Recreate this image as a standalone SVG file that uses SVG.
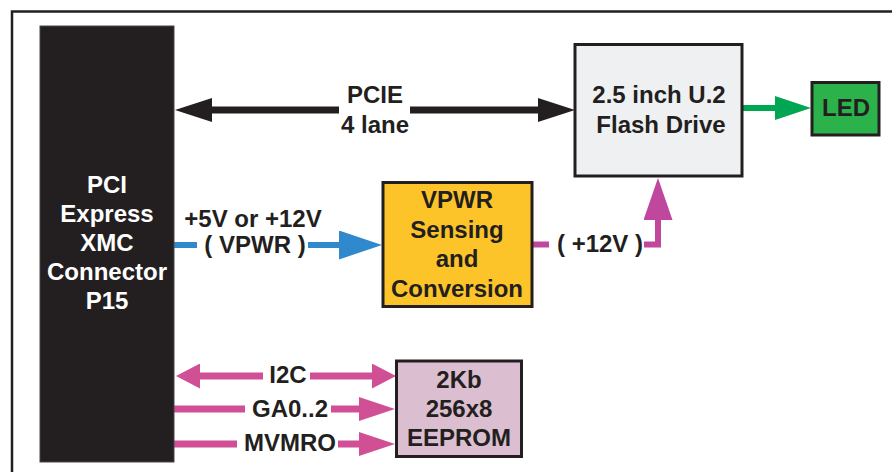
<svg xmlns="http://www.w3.org/2000/svg" width="892" height="472" viewBox="0 0 892 472">
<style>
text{font-family:"Liberation Sans",Arial,Helvetica,sans-serif;font-weight:bold;font-size:24px;text-anchor:middle;fill:#231f20}
.w{fill:#ffffff}
.box{stroke:#231f20;stroke-width:3}
.ln{fill:none;stroke-linecap:butt}
.blk{stroke:#231f20;stroke-width:7}
.grn{stroke:#00a651;stroke-width:6}
.blu{stroke:#3089cd;stroke-width:6}
.mag{stroke:#c0479e;stroke-width:6}
.pnk{stroke:#d14f95;stroke-width:7}
</style>
<defs>
<marker id="hBlk" markerUnits="userSpaceOnUse" viewBox="0 0 37 24" markerWidth="37" markerHeight="24" refX="1" refY="12" orient="auto-start-reverse"><path d="M0,0 L37,12 L0,24 z" fill="#231f20"/></marker>
<marker id="hGrn" markerUnits="userSpaceOnUse" viewBox="0 0 36 24" markerWidth="36" markerHeight="24" refX="1" refY="12" orient="auto-start-reverse"><path d="M0,0 L36,12 L0,24 z" fill="#00a651"/></marker>
<marker id="hBlu" markerUnits="userSpaceOnUse" viewBox="0 0 43 29" markerWidth="43" markerHeight="29" refX="1" refY="14.5" orient="auto-start-reverse"><path d="M0,0 L43,14.5 L0,29 z" fill="#3089cd"/></marker>
<marker id="hMag" markerUnits="userSpaceOnUse" viewBox="0 0 42 29" markerWidth="42" markerHeight="29" refX="1" refY="14.5" orient="auto-start-reverse"><path d="M0,0 L42,14.5 L0,29 z" fill="#c0479e"/></marker>
<marker id="hPnkS" markerUnits="userSpaceOnUse" viewBox="0 0 24 25" markerWidth="24" markerHeight="25" refX="1" refY="12.5" orient="auto-start-reverse"><path d="M0,0 L24,12.5 L0,25 z" fill="#d14f95"/></marker>
<marker id="hPnk" markerUnits="userSpaceOnUse" viewBox="0 0 36 24" markerWidth="36" markerHeight="24" refX="1" refY="12" orient="auto-start-reverse"><path d="M0,0 L36,12 L0,24 z" fill="#d14f95"/></marker>
</defs>

<path d="M12,472 V11.5 H892" fill="none" stroke="#231f20" stroke-width="2.5"/>

<g id="connectors">
<line class="ln blk" x1="211" y1="110" x2="339" y2="110" marker-start="url(#hBlk)"/>
<line class="ln blk" x1="410" y1="110" x2="539" y2="110" marker-end="url(#hBlk)"/>
<text x="375" y="103">PCIE</text>
<text x="375" y="133">4 lane</text>

<line class="ln grn" x1="742" y1="108" x2="776" y2="108" marker-end="url(#hGrn)"/>

<line class="ln blu" x1="174" y1="245" x2="197" y2="245"/>
<line class="ln blu" x1="308" y1="245" x2="340" y2="245" marker-end="url(#hBlu)"/>
<text x="253" y="227">+5V or +12V</text>
<text x="255" y="253">( VPWR )</text>

<line class="ln mag" x1="532" y1="244.5" x2="549" y2="244.5"/>
<path class="ln mag" d="M644,244.5 H658 V219" marker-end="url(#hMag)"/>
<text x="600" y="252">( +12V )</text>

<line class="ln pnk" x1="199" y1="376" x2="263" y2="376" marker-start="url(#hPnkS)"/>
<line class="ln pnk" x1="310" y1="376" x2="373" y2="376" marker-end="url(#hPnkS)"/>
<text x="288" y="383">I2C</text>

<line class="ln pnk" x1="174" y1="409" x2="245" y2="409"/>
<line class="ln pnk" x1="331" y1="409" x2="360" y2="409" marker-end="url(#hPnk)"/>
<text x="290" y="417">GA0..2</text>

<line class="ln pnk" x1="174" y1="444" x2="237" y2="444"/>
<line class="ln pnk" x1="338" y1="444" x2="360" y2="444" marker-end="url(#hPnk)"/>
<text x="290" y="451">MVMRO</text>
</g>

<g id="xmc">
<rect x="40" y="26" width="134" height="436" fill="#231f20" stroke="#4a4748" stroke-width="1"/>
<text class="w" x="107" y="193">PCI</text>
<text class="w" x="107" y="222">Express</text>
<text class="w" x="107" y="251">XMC</text>
<text class="w" x="107" y="280">Connector</text>
<text class="w" x="107" y="309">P15</text>
</g>

<g id="flash">
<rect class="box" x="575" y="44.5" width="167" height="131.5" fill="#eff0f2"/>
<text x="659" y="103">2.5 inch U.2</text>
<text x="661" y="133">Flash Drive</text>
</g>

<g id="led">
<rect class="box" x="812" y="82.5" width="67" height="52.5" fill="#2bb24b"/>
<text x="846" y="116">LED</text>
</g>

<g id="vpwr">
<rect class="box" x="383" y="182.5" width="149" height="124" fill="#fdc42a"/>
<text x="457" y="208">VPWR</text>
<text x="457" y="237.5">Sensing</text>
<text x="457" y="267">and</text>
<text x="457" y="296.5">Conversion</text>
</g>

<g id="eeprom">
<rect class="box" x="396.5" y="361" width="125" height="95.5" fill="#dbbecf"/>
<text x="459" y="388">2Kb</text>
<text x="459" y="417">256x8</text>
<text x="459" y="446">EEPROM</text>
</g>
</svg>
